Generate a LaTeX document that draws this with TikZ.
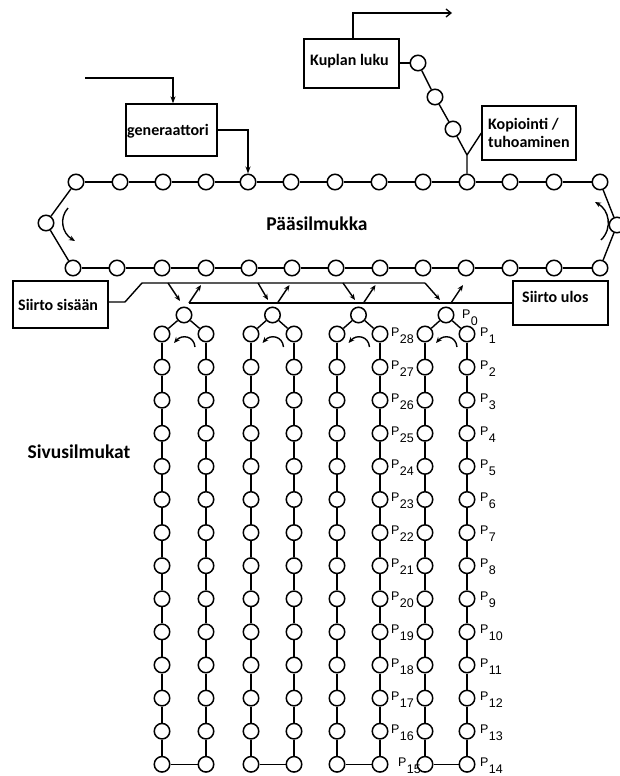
\documentclass[tikz,border=0pt]{standalone}
\usepackage{fontspec}
\setmainfont{Carlito}
\newfontfamily\pfont{Liberation Sans}
\usetikzlibrary{arrows.meta}
\newcommand{\Pn}[1]{P\kern0.3pt\raisebox{-7pt}{#1}}
\begin{document}
\begin{tikzpicture}[x=1pt,y=-1pt,
  bub/.style={circle,draw,fill=white,inner sep=0pt,minimum size=15.5pt,line width=1.5pt},
  lk/.style={line width=1.4pt},
  lbox/.style={draw,line width=1.3pt,inner sep=0pt},
  btxt/.style={anchor=west,inner sep=0pt,align=left,font=\fontsize{16}{18}\selectfont\bfseries},
  htxt/.style={inner sep=0pt,font=\fontsize{19.5}{22}\selectfont\bfseries},
  arr/.style={-{Stealth[length=7pt,width=5pt]},line width=1.3pt},
  barr/.style={-{Straight Barb[length=5pt,width=8pt]},line width=1.3pt},
  carr/.style={-{Stealth[length=6pt,width=5pt]},line width=1.4pt},
  plab/.style={anchor=base west,inner sep=0pt,font=\pfont\fontsize{12.5}{13}\selectfont}]
\path[use as bounding box] (0,0) rectangle (619,776);

% main loop
\foreach \x [count=\i from 0] in {76,120,163,206,248,291,335,379,423,467,510,554,600}
  \node[bub] (t\i) at (\x,182) {};
\foreach \x [count=\i from 0] in {73,117,162,206,249,292,336,380,423,466,510,554,600}
  \node[bub] (b\i) at (\x,268) {};
\node[bub] (L) at (46,223) {};
\node[bub] (R) at (617,225) {};
\foreach \i in {0,...,11}{
  \pgfmathtruncatemacro\j{\i+1}
  \draw[lk] (t\i) -- (t\j);
  \draw[lk] (b\i) -- (b\j);
}
\draw[lk] (t0) -- (L) -- (b0);
\draw[lk] (t12) -- (R) -- (b12);
\draw[carr] (68,208) .. controls (59,218) and (62,233) .. (75,241);
\draw[carr] (601,240) .. controls (613,228) and (609,210) .. (595,202);
\node[htxt] (ps) at (317,224) {Pääsilmukka};

% generator
\node[lbox,minimum width=91pt,minimum height=52pt] (gen) at (171.5,130) {};
\node[btxt] (gent) at (127,131) {generaattori};
\coordinate (gi) at (85,78);
\coordinate (gic) at (173,78);
\draw[arr] (gi) -- (gic) -- (gic |- gen.north);
\draw[arr] (gen.east) -- (gen.east -| t4) -- (t4.north);

% bubble read
\node[lbox,minimum width=95pt,minimum height=49pt] (kup) at (351.5,63.5) {};
\node[btxt] (kupt) at (310,61) {Kuplan luku};
\coordinate (ko1) at (353,13);
\coordinate (ko2) at (452,13);
\draw[barr] (kup.north -| ko1) -- (ko1) -- (ko2);
\node[bub] (k1) at (418,63) {};
\node[bub] (k2) at (435,97) {};
\node[bub] (k3) at (453,129) {};
\coordinate (jn) at (467,155);
\draw[lk] (kup.east |- k1) -- (k1);
\draw[lk] (k1) -- (k2);
\draw[lk] (k2) -- (k3);
\draw[lk] (k3) -- (jn) -- (t9);
\node[lbox,minimum width=94pt,minimum height=54pt] (kop) at (529,133) {};
\node[btxt] (kopt) at (488,133) {Kopiointi /\\tuhoaminen};
\draw[lk] (jn) -- (kop.west);

% transfer boxes
\node[lbox,minimum width=95pt,minimum height=47pt] (ssb) at (60.5,304.5) {};
\node[btxt] (ssbt) at (18,305) {Siirto sisään};
\node[lbox,minimum width=95pt,minimum height=44pt] (sub) at (560.5,303) {};
\node[btxt] (subt) at (522,297) {Siirto ulos};

\coordinate (inS) at (142,283);
\coordinate (inE) at (425,283);
\coordinate (ssk) at (125,302);
\draw[lk] (ssb.east |- ssk) -- (ssk) -- (inS) -- (inE);
\coordinate (outS) at (189,303);
\draw[lk] (outS) -- (sub.west |- outS);

% minor loops
\foreach \xl/\xr [count=\k] in {162/206,251/294,337/380,425/467}{
  \pgfmathsetmacro\ax{(\xl+\xr)/2}
  \node[bub] (a\k) at (\ax,315) {};
  \foreach \j in {0,...,13}{
    \node[bub] (l\k-\j) at (\xl,{334+33.1*\j}) {};
    \node[bub] (r\k-\j) at (\xr,{334+33.1*\j}) {};
  }
  \draw[lk] (a\k) -- (l\k-0);
  \draw[lk] (a\k) -- (r\k-0);
  \foreach \j in {0,...,12}{
    \pgfmathtruncatemacro\jj{\j+1}
    \draw[lk] (l\k-\j) -- (l\k-\jj);
    \draw[lk] (r\k-\j) -- (r\k-\jj);
  }
  \draw[lk] (l\k-13) -- (r\k-13);
  \draw[carr] ({\ax+11},347) .. controls ({\ax+10},336) and ({\ax-2},334) .. ({\ax-10},343);
  \coordinate (us\k) at ({\ax+5},303);
  \coordinate (ue\k) at ({\ax+17},285);
  \draw[carr] (us\k) -- (ue\k);
}
\coordinate (ds1) at (168,283); \coordinate (de1) at (180,301);
\coordinate (ds2) at (258,283); \coordinate (de2) at (268,300);
\coordinate (ds3) at (343,283); \coordinate (de3) at (355,300);
\coordinate (de4) at (440,300);
\foreach \k in {1,2,3} \draw[carr] (ds\k) -- (de\k);
\draw[carr] (inE) -- (de4);

% labels
\node[htxt] (sv) at (79,452) {Sivusilmukat};
\node[plab] (p0) at (462,318) {\Pn{0}};
\foreach \j in {0,...,13}{
  \pgfmathtruncatemacro\n{\j+1}
  \node[plab] (pr\j) at (480,{336+33.1*\j}) {\Pn{\n}};
}
\foreach \j in {0,...,12}{
  \pgfmathtruncatemacro\n{28-\j}
  \node[plab] (pl\j) at (391,{336+33.1*\j}) {\Pn{\n}};
}
\node[plab] (p15) at (398,766) {\Pn{15}};
\end{tikzpicture}
\end{document}
